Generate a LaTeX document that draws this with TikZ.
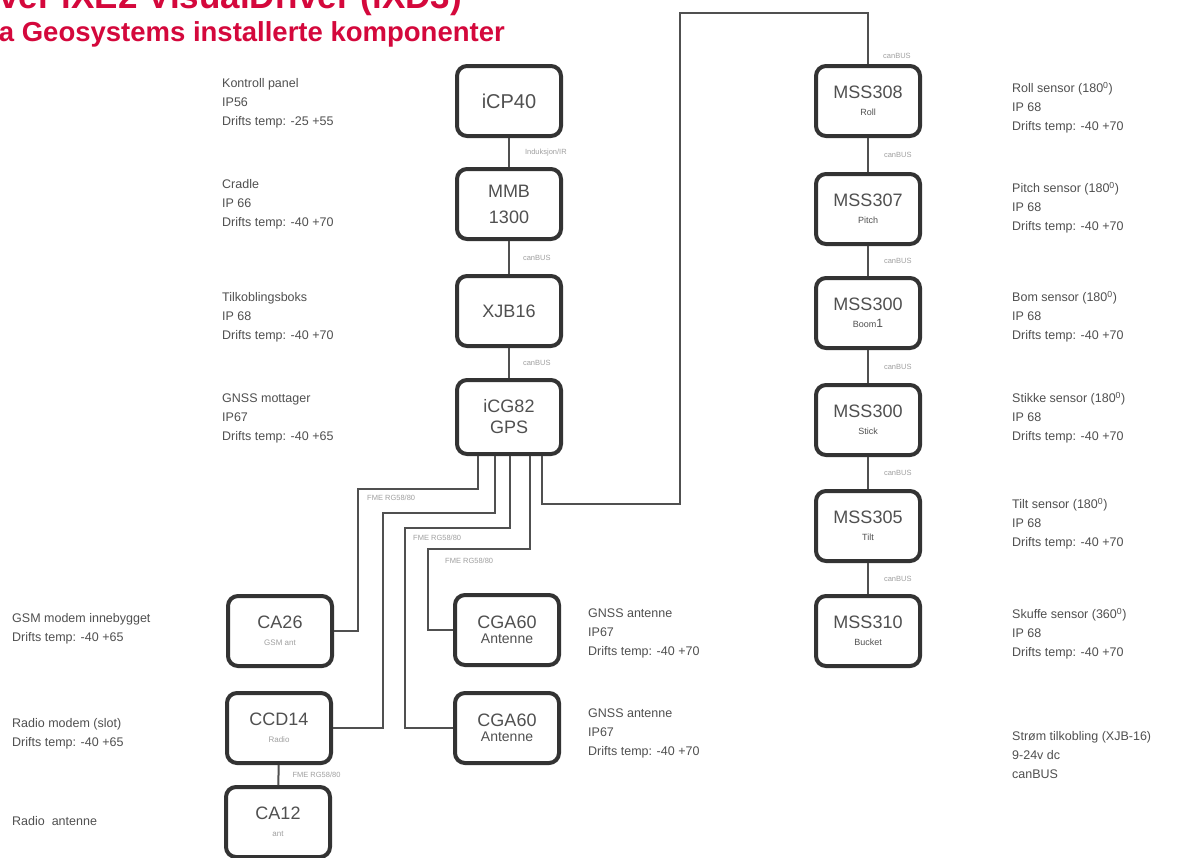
\documentclass[tikz,border=0pt]{standalone}
\usepackage{fontspec}
\setmainfont{Liberation Sans}
\definecolor{boxc}{HTML}{333333}
\definecolor{wirec}{HTML}{505050}
\definecolor{txtc}{HTML}{505050}
\definecolor{lblc}{HTML}{A0A0A0}
\definecolor{titlec}{HTML}{D4083C}
\newcommand\subdfont{\fontsize{9}{10}\selectfont}
\newcommand\sublfont{\fontsize{8}{10}\selectfont\color{lblc}}
\begin{document}
\begin{tikzpicture}[x=1pt,y=-1pt,
  compbox/.style={draw=boxc, line width=4pt, rounded corners=10pt, minimum width=104pt, minimum height=70pt, fill=white, align=center, text=txtc, inner sep=2pt, font=\fontsize{18}{21}\selectfont},
  wire/.style={draw=wirec, line width=2pt},
  cl/.style={text=lblc, font=\fontsize{7.5}{9}\selectfont, inner sep=1pt},
  desc/.style={anchor=north west, align=left, text=txtc, inner sep=0pt, font=\fontsize{12.5}{19}\selectfont},
  title/.style={text=titlec, font=\fontsize{27.5}{30}\selectfont\bfseries, inner sep=0pt}
]
\useasboundingbox (0,0) rectangle (1190,857);
\clip (0,0) rectangle (1190,857);
\fill[white] (0,0) rectangle (1190,857);

% title
\node[title, font=\fontsize{35}{38}\selectfont\bfseries, anchor=base east] (t1) at (462,8) {Oversikt over iXE2 VisualDriver (iXD3)};
\node[title, anchor=base east] (t2) at (505,41) {Leica Geosystems installerte komponenter};

% centre column
\node[compbox] (icp) at (509,101) {\fontsize{20}{22}\selectfont iCP40};
\node[compbox] (mmb) at (509,204) {MMB\\[5pt]1300};
\node[compbox] (xjb) at (509,311) {XJB16};
\node[compbox, minimum height=74pt] (gps) at (509,417) {iCG82\\GPS};

% right column
\node[compbox] (roll) at (868,101) {MSS308\\[-4pt]{\subdfont Roll}};
\node[compbox] (pitch) at (868,209) {MSS307\\[-4pt]{\subdfont Pitch}};
\node[compbox] (boom) at (868,313) {MSS300\\[-4pt]{\subdfont Boom\fontsize{12}{12}\selectfont 1}};
\node[compbox] (stick) at (868,420) {MSS300\\[-4pt]{\subdfont Stick}};
\node[compbox] (tilt) at (868,526) {MSS305\\[-4pt]{\subdfont Tilt}};
\node[compbox] (bucket) at (868,631) {MSS310\\[-4pt]{\subdfont Bucket}};

% left / bottom
\node[compbox] (ca26) at (280,631) {CA26\\[-4pt]{\sublfont GSM ant}};
\node[compbox] (ccd) at (279,728) {CCD14\\[-4pt]{\sublfont Radio}};
\node[compbox] (ca12) at (278,822) {CA12\\[-4pt]{\sublfont ant}};
\node[compbox] (cga1) at (507,630) {CGA60\\[-6pt]{\fontsize{14}{16}\selectfont Antenne}};
\node[compbox] (cga2) at (507,728) {CGA60\\[-6pt]{\fontsize{14}{16}\selectfont Antenne}};

% vertical connectors
\draw[wire] (icp) -- node[cl, right=14pt] {Induksjon/IR} (mmb);
\draw[wire] (mmb) -- node[cl, right=12pt] {canBUS} (xjb);
\draw[wire] (xjb) -- node[cl, right=12pt] {canBUS} (gps);
\draw[wire] (roll) -- node[cl, right=14pt] {canBUS} (pitch);
\draw[wire] (pitch) -- node[cl, right=14pt] {canBUS} (boom);
\draw[wire] (boom) -- node[cl, right=14pt] {canBUS} (stick);
\draw[wire] (stick) -- node[cl, right=14pt] {canBUS} (tilt);
\draw[wire] (tilt) -- node[cl, right=14pt] {canBUS} (bucket);
\draw[wire] (ccd) -- node[cl, right=12pt] {FME RG58/80} (ca12);

% GPS cables
\draw[wire] ([xshift=-31pt]gps.south) |- ++(-120,33) |- (ca26.east);
\draw[wire] ([xshift=-14pt]gps.south) |- ++(-112,57) |- (ccd.east);
\draw[wire] ([xshift=1pt]gps.south) |- ++(-105,72) |- (cga2.west);
\draw[wire] ([xshift=21pt]gps.south) |- ++(-102,93) |- (cga1.west);
\draw[wire] ([xshift=33pt]gps.south) |- ++(138,48) -- ++(0,-491) -| (roll.north);
\node[cl, anchor=south west] (topbus) at ([xshift=14pt,yshift=4pt]roll.north) {canBUS};

\node[cl, anchor=west] (f1) at (366,498) {FME RG58/80};
\node[cl, anchor=west] (f2) at (412,538) {FME RG58/80};
\node[cl, anchor=west] (f3) at (444,561) {FME RG58/80};

% descriptions
\node[desc] (d1) at (222,78) {Kontroll panel\\IP56\\Drifts temp: -25 +55};
\node[desc] (d2) at (222,179) {Cradle\\IP 66\\Drifts temp: -40 +70};
\node[desc] (d3) at (222,292) {Tilkoblingsboks\\IP 68\\Drifts temp: -40 +70};
\node[desc] (d4) at (222,394) {GNSS mottager\\IP67\\Drifts temp: -40 +65};
\node[desc] (d5) at (12,613) {GSM modem innebygget\\Drifts temp: -40 +65};
\node[desc] (d6) at (12,718) {Radio modem (slot)\\Drifts temp: -40 +65};
\node[desc] (d7) at (12,816) {Radio\ \ antenne};
\node[desc] (d8) at (588,609) {GNSS antenne\\IP67\\Drifts temp: -40 +70};
\node[desc] (d9) at (588,709) {GNSS antenne\\IP67\\Drifts temp: -40 +70};
\node[desc] (r1) at (1012,82) {Roll sensor (180\textsuperscript{0})\\IP 68\\Drifts temp: -40 +70};
\node[desc] (r2) at (1012,182) {Pitch sensor (180\textsuperscript{0})\\IP 68\\Drifts temp: -40 +70};
\node[desc] (r3) at (1012,291) {Bom sensor (180\textsuperscript{0})\\IP 68\\Drifts temp: -40 +70};
\node[desc] (r4) at (1012,392) {Stikke sensor (180\textsuperscript{0})\\IP 68\\Drifts temp: -40 +70};
\node[desc] (r5) at (1012,498) {Tilt sensor (180\textsuperscript{0})\\IP 68\\Drifts temp: -40 +70};
\node[desc] (r6) at (1012,608) {Skuffe sensor (360\textsuperscript{0})\\IP 68\\Drifts temp: -40 +70};
\node[desc] (r7) at (1012,731) {Strøm tilkobling (XJB-16)\\9-24v dc\\canBUS};
\end{tikzpicture}
\end{document}
